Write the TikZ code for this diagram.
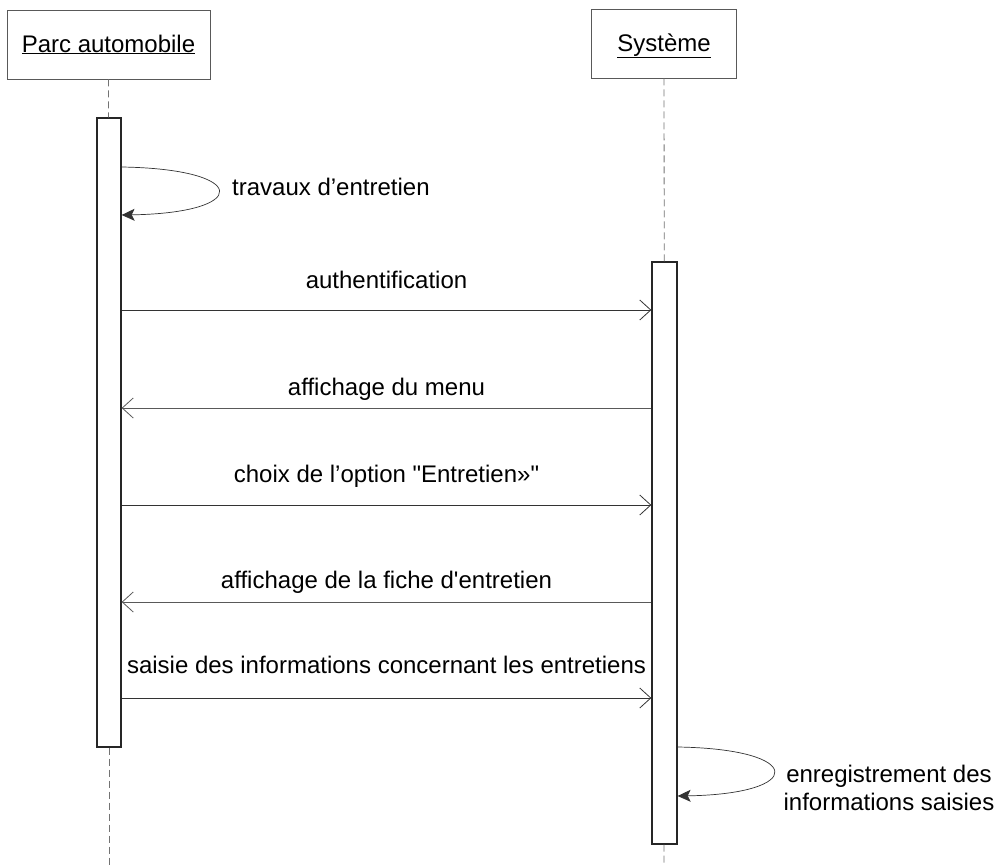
\documentclass[tikz,border=0pt]{standalone}
\usepackage{fontspec}
\setmainfont{Liberation Sans}[Ligatures=TeXOff]
\usetikzlibrary{positioning,arrows.meta,calc}
\tikzset{
  objbox/.style={draw=black!65,line width=0.8pt,fill=white,inner sep=0pt,
    text height=20pt,text depth=5pt,font=\fontsize{24}{28}\selectfont},
  lifeline/.style={black!55,line width=0.8pt,dash pattern=on 7pt off 4pt},
  actbar/.style={draw=black!85,line width=1.3pt,fill=white,inner sep=0pt,minimum width=24pt},
  msg/.style={-{Straight Barb[length=11pt,width=20pt,line width=0.8pt]},line width=0.8pt,black!80},
  retmsg/.style={msg,black!65},
  selfmsg/.style={-{Stealth[length=13pt,width=12pt,inset=3pt]},line width=0.7pt,black!80},
  lbl/.style={font=\fontsize{24}{28}\selectfont,inner sep=0pt,text=black},
}

\begin{document}
\begin{tikzpicture}[x=1pt,y=-1pt]
  \useasboundingbox (0,0) rectangle (1002,865);
  % objects
  \node[objbox,minimum width=203pt,minimum height=69pt] (parc) at (108.5,44.5) {\underline{Parc automobile}};
  \node[objbox,minimum width=145pt,minimum height=69pt] (sys) at (664,43.5) {\underline{Système}};
  % activation bars
  \coordinate (endP) at (109,865);
  \coordinate (endS) at (664,865);
  \node[actbar,minimum height=629pt] (actP) at (109,432.5) {};
  \node[actbar,minimum height=582pt,minimum width=25pt] (actS) at (664.5,553) {};
  % lifelines
  \draw[lifeline] (parc) -- (actP);
  \draw[lifeline] (sys) -- (actS);
  \draw[lifeline] (actP) -- (endP);
  \draw[lifeline] (actS) -- (endS);
  % self call on the fleet
  \coordinate (s1a) at (0,167);
  \coordinate (s1b) at (0,215);
  \draw[selfmsg] (actP.east |- s1a) .. controls +(129,2) and +(129,-2) .. (actP.east |- s1b);
  \node[lbl,anchor=base west] (l0) at (232,195) {travaux d’entretien};
  % messages
  \coordinate (m1) at (0,310);
  \coordinate (m2) at (0,408);
  \coordinate (m3) at (0,505);
  \coordinate (m4) at (0,602);
  \coordinate (m5) at (0,698);
  \draw[msg] (actP.east |- m1) -- (actS.west |- m1)
    node[lbl,midway,anchor=base,yshift=22pt] (l1) {authentification};
  \draw[retmsg] (actS.west |- m2) -- (actP.east |- m2)
    node[lbl,midway,anchor=base,yshift=13pt] (l2) {affichage du menu};
  \draw[msg] (actP.east |- m3) -- (actS.west |- m3)
    node[lbl,midway,anchor=base,yshift=23pt] (l3) {choix de l’option "Entretien»"};
  \draw[retmsg] (actS.west |- m4) -- (actP.east |- m4)
    node[lbl,midway,anchor=base,yshift=14pt] (l4) {affichage de la fiche d'entretien};
  \draw[msg] (actP.east |- m5) -- (actS.west |- m5)
    node[lbl,midway,anchor=base,yshift=25pt] (l5) {saisie des informations concernant les entretiens};
  % self call on the system
  \coordinate (s2a) at (0,747);
  \coordinate (s2b) at (0,796);
  \draw[selfmsg] (actS.east |- s2a) .. controls +(128,2) and +(128,-2) .. (actS.east |- s2b);
  \node[lbl,align=center] (l6) at (889,788) {enregistrement des\\informations saisies};
\end{tikzpicture}
\end{document}
